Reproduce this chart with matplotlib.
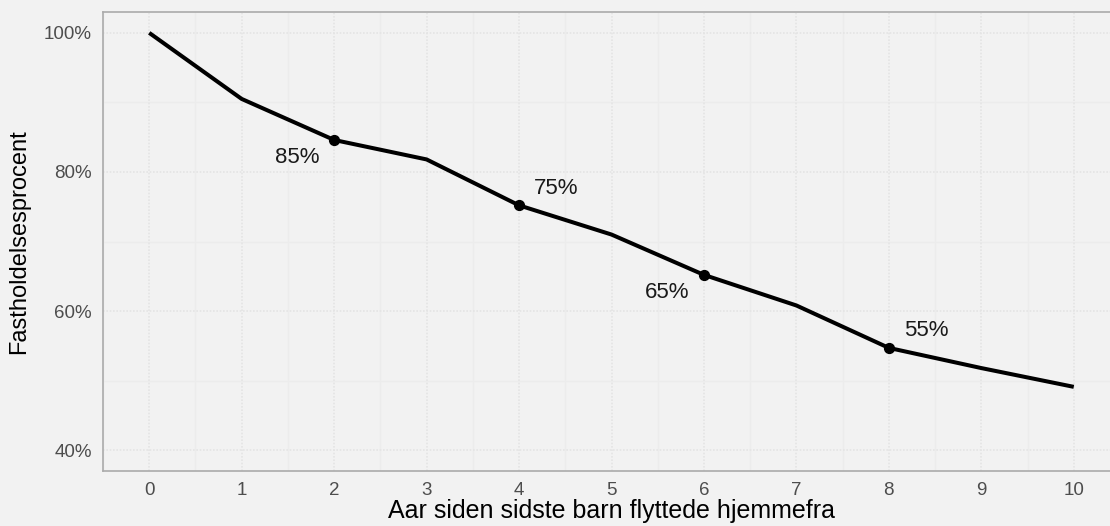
import matplotlib.pyplot as plt

# data
years = [0, 1, 2, 3, 4, 5, 6, 7, 8, 9, 10]
retention = [100.0, 90.5, 84.6, 81.8, 75.2, 71.0, 65.2, 60.8, 54.7, 51.8, 49.1]
marked_years = [2, 4, 6, 8]
marked_labels = ["85%", "75%", "65%", "55%"]
y_ticks = [40, 60, 80, 100]

plt.rcParams['font.family'] = ['Liberation Sans', 'DejaVu Sans']
bg = '#F2F2F2'

fig = plt.figure(figsize=(11.1, 5.26), dpi=100, facecolor=bg)
ax = fig.add_axes([103/1110, 55/526, (1120-103)/1110, (471-12)/526])
ax.set_facecolor(bg)

# grid: faint solid minor, dotted major
for v in [i + 0.5 for i in range(-1, 11)]:
    ax.axvline(v, color='#ECECEC', lw=1.0, zorder=0)
for v in [50, 70, 90]:
    ax.axhline(v, color='#ECECEC', lw=1.0, zorder=0)
for v in years:
    ax.axvline(v, color='#E4E4E4', lw=1.2, ls=(0, (1, 1)), zorder=0)
for v in y_ticks:
    ax.axhline(v, color='#E4E4E4', lw=1.2, ls=(0, (1, 1)), zorder=0)

ax.plot(years, retention, color='black', lw=2.9, zorder=3, solid_capstyle='butt')
mx = [years[years.index(y)] for y in marked_years]
my = [retention[years.index(y)] for y in marked_years]
ax.scatter(mx, my, s=50, color='black', zorder=4)

# labels alternate below-left / above-right
offsets = [(-37, -18), (37, 17), (-37, -18), (37, 17)]
for x, y, lab, off in zip(mx, my, marked_labels, offsets):
    ax.annotate(lab, (x, y), xytext=off, textcoords='offset pixels',
                ha='center', va='center', fontsize=16, color='#1A1A1A')

ax.set_xlim(-0.5, 10.5)
ax.set_ylim(37, 103)
ax.set_xticks(years)
ax.set_yticks(y_ticks)
ax.set_yticklabels([f"{v}%" for v in y_ticks])
ax.tick_params(length=0, labelsize=13.5, labelcolor='#4D4D4D', pad=8)

for s in ax.spines.values():
    s.set_color('#ABABAB')
    s.set_linewidth(1.2)

ax.set_xlabel("Aar siden sidste barn flyttede hjemmefra", fontsize=18, color='black', labelpad=0)
ax.set_ylabel("Fastholdelsesprocent", fontsize=17, color='black', labelpad=10)

fig.savefig("out.png", dpi=100, facecolor=bg)
